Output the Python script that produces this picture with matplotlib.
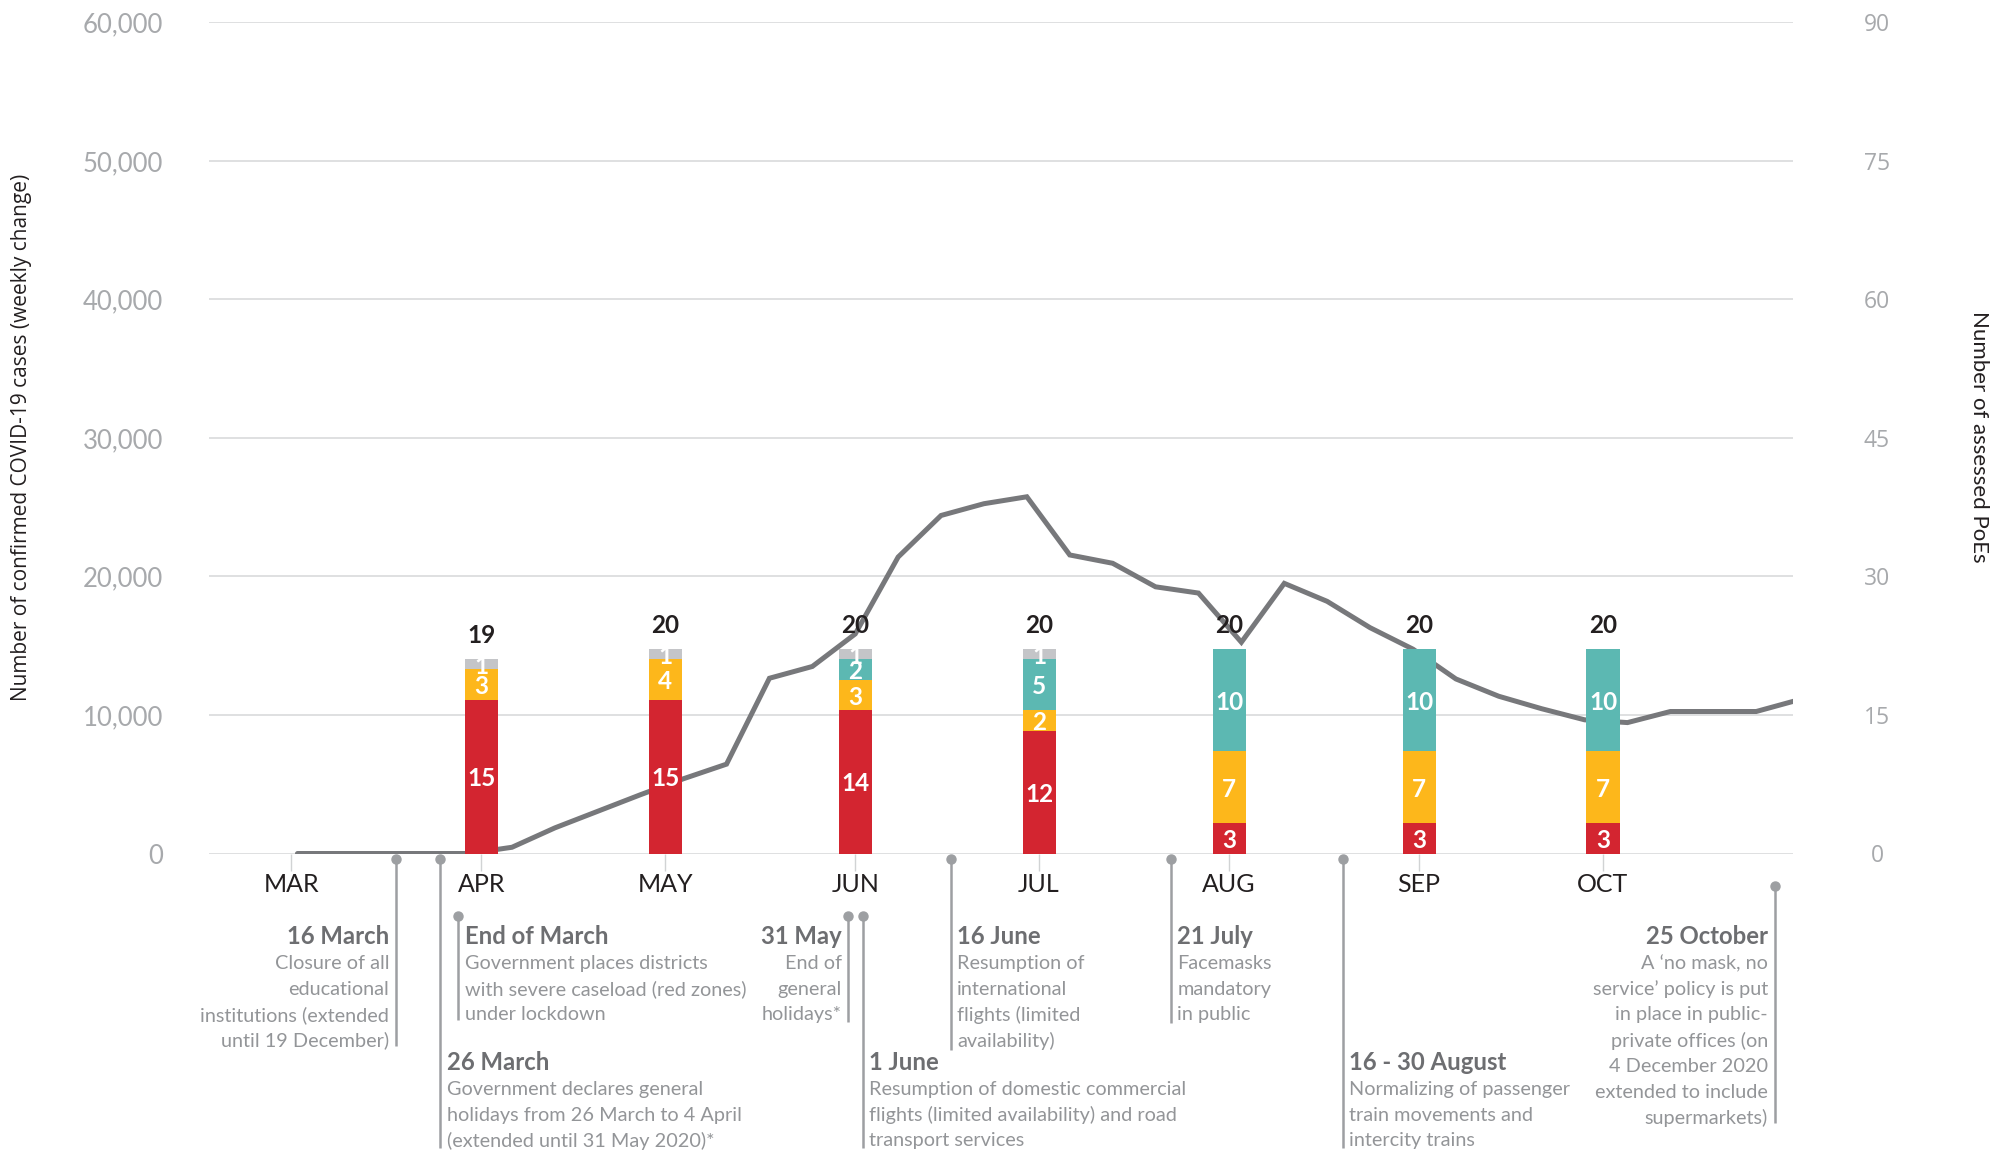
import matplotlib
matplotlib.use("Agg")
import matplotlib.pyplot as plt
import matplotlib.transforms as mtransforms
from matplotlib.ticker import StrMethodFormatter
import pandas as pd

plt.rcParams["font.family"] = ["Lato", "DejaVu Sans"]

# ---- data ----
start = pd.Timestamp("2020-03-01")
month_labels = ["MAR", "APR", "MAY", "JUN", "JUL", "AUG", "SEP", "OCT"]
month_days = (pd.date_range("2020-03-01", periods=8, freq="MS") - start).days.values

# weekly change in confirmed cases
week_days = (pd.date_range("2020-03-02", periods=36, freq="7D") - start).days.values
weekly_cases = [0, 0, 0, 0, 0, 450, 1850, 3050, 4250, 5400, 6450, 12650,
                13500, 15850, 21400, 24400, 25250, 25750, 21550, 20950, 19250,
                18800, 15250, 19500, 18200, 16300, 14750, 12600, 11350, 10450,
                9650, 9450, 10250, 10250, 10250, 11100]

# assessed PoEs by month
bar_months = ["APR", "MAY", "JUN", "JUL", "AUG", "SEP", "OCT"]
poe_red = [15, 15, 14, 12, 3, 3, 3]
poe_yellow = [3, 4, 3, 2, 7, 7, 7]
poe_teal = [0, 0, 2, 5, 10, 10, 10]
poe_grey = [1, 1, 1, 1, 0, 0, 0]

# timeline events (x = days since 1 March, as placed on the chart)
event_x = [17.0, 24.3, 27.2, 90.9, 93.2, 107.6, 143.5, 171.5, 242.0]
event_titles = ["16 March", "26 March", "End of March", "31 May", "1 June",
                "16 June", "21 July", "16 - 30 August", "25 October"]
event_texts = [
    ["Closure of all", "educational", "institutions (extended", "until 19 December)"],
    ["Government declares general", "holidays from 26 March to 4 April",
     "(extended until 31 May 2020)*"],
    ["Government places districts", "with severe caseload (red zones)", "under lockdown"],
    ["End of", "general", "holidays*"],
    ["Resumption of domestic commercial", "flights (limited availability) and road",
     "transport services"],
    ["Resumption of", "international", "flights (limited", "availability)"],
    ["Facemasks", "mandatory", "in public"],
    ["Normalizing of passenger", "train movements and", "intercity trains"],
    ["A \u2018no mask, no", "service\u2019 policy is put", "in place in public-",
     "private offices (on", "4 December 2020", "extended to include", "supermarkets)"],
]

# layout of the callouts, in pixels from the top: (dot y, line end y, title y, side)
event_layout = [
    (859, 1046, 937, "right"),
    (859, 1148, 1063, "left"),
    (916, 1020, 937, "left"),
    (916, 1022, 937, "right"),
    (916, 1148, 1063, "left"),
    (859, 1050, 937, "left"),
    (859, 1023, 937, "left"),
    (859, 1148, 1063, "left"),
    (886, 1123, 937, "right"),
]

W, H = 2007, 1152


def fy(px):
    return 1 - px / H


RED, YELLOW, TEAL, GREY = "#d32530", "#fdb71b", "#5cb8b2", "#c4c5c8"

fig = plt.figure(figsize=(W / 100, H / 100), dpi=100)
ax = fig.add_axes([208.6 / W, fy(853.5), (1793 - 208.6) / W, (853.5 - 22.3) / H])
axr = ax.twinx()
axb = ax.twinx()

# cases line
ax.plot(week_days, weekly_cases, color="#77787b", lw=3.6, solid_joinstyle="miter",
        solid_capstyle="round", zorder=2)
ax.set_xlim(-13.5, 245)
ax.set_ylim(0, 60000)
ax.set_yticks(range(0, 60001, 10000))
ax.yaxis.set_major_formatter(StrMethodFormatter("{x:,.0f}"))
ax.grid(axis="y", color="#dcddde", lw=1.3)
ax.set_axisbelow(True)
ax.tick_params(axis="y", length=0, pad=33, labelsize=18.5, labelcolor="#a7a9ac")
ax.set_xticks(month_days, month_labels)
ax.tick_params(axis="x", length=12, width=1, color="#d1d3d4", pad=2,
               labelsize=18, labelcolor="#231f20")

# right axis
axr.set_ylim(0, 90)
axr.set_yticks(range(0, 91, 15))
axr.tick_params(axis="y", length=0, pad=60.5, labelsize=16.5, labelcolor="#a7a9ac")
for lab in axr.get_yticklabels():
    lab.set_horizontalalignment("center")
    lab.set_family(["Open Sans", "DejaVu Sans"])

# stacked bars
bar_x = [month_days[month_labels.index(m)] for m in bar_months]
axb.set_ylim(0, 81.3)
axb.set_yticks([])
bottom = [0] * len(bar_x)
for vals, col in [(poe_red, RED), (poe_yellow, YELLOW), (poe_teal, TEAL), (poe_grey, GREY)]:
    axb.bar(bar_x, vals, width=5.4, bottom=bottom, color=col, zorder=3)
    for x, b, v in zip(bar_x, bottom, vals):
        if v > 0:
            axb.text(x, b + v / 2, str(v), ha="center", va="center_baseline",
                     color="white", fontsize=17.5, fontweight="bold", zorder=4)
    bottom = [b + v for b, v in zip(bottom, vals)]
for x, t in zip(bar_x, bottom):
    axb.annotate(str(t), xy=(x, t), xytext=(0, 17), textcoords="offset points",
                 ha="center", va="center", fontsize=17.5, fontweight="bold",
                 color="#231f20", zorder=4)

for a in (ax, axr, axb):
    for s in a.spines.values():
        s.set_visible(False)

# timeline callouts
blend = mtransforms.blended_transform_factory(ax.transData, fig.transFigure)
for x, title, lines, (dot_y, end_y, title_y, side) in zip(
        event_x, event_titles, event_texts, event_layout):
    ax.plot([x, x], [fy(dot_y), fy(end_y)], color="#9d9fa2", lw=1.8,
            transform=blend, clip_on=False, solid_capstyle="butt")
    ax.plot([x], [fy(dot_y)], "o", color="#9d9fa2", ms=6.5, transform=blend,
            clip_on=False)
    dx = -4.7 if side == "right" else 4.7
    ax.annotate(title, xy=(x, fy(title_y)), xycoords=blend, xytext=(dx, 0),
                textcoords="offset points", ha=side, va="center",
                fontsize=17.2, fontweight="bold", color="#6d6e71")
    for i, line in enumerate(lines):
        ax.annotate(line, xy=(x, fy(title_y + 26.5 + 25.7 * i)), xycoords=blend,
                    xytext=(dx, 0), textcoords="offset points", ha=side,
                    va="center", fontsize=14.3, color="#939598")

fig.text(22 / W, fy(437), "Number of confirmed COVID-19 cases (weekly change)",
         rotation=90, ha="center", va="center", fontsize=15, color="#231f20",
         family=["Open Sans", "DejaVu Sans"])
fig.text(1979 / W, fy(437), "Number of assessed PoEs", rotation=270,
         ha="center", va="center", fontsize=16, color="#231f20")

fig.savefig("out.png", dpi=100)
